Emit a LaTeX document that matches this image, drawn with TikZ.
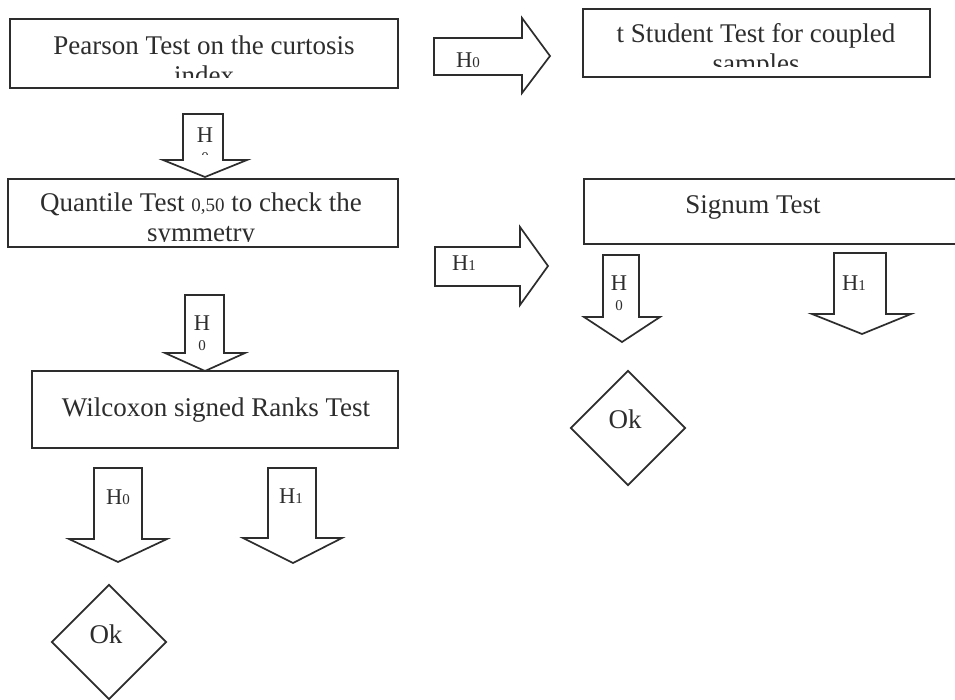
\documentclass[tikz,border=0pt]{standalone}
\usepackage{fontspec}
\setmainfont{Liberation Serif}
\usetikzlibrary{shapes.geometric}
\definecolor{ink}{RGB}{45,45,45}
\newcommand{\hidx}[1]{{\fontsize{15}{15}\selectfont #1}}

\begin{document}
\begin{tikzpicture}[
  x=1pt, y=-1pt, line join=miter,
  box/.style    = {draw=ink, line width=1.7pt, rectangle, inner sep=0pt},
  okbox/.style  = {draw=ink, line width=1.7pt, diamond, inner sep=0pt,
                   minimum width=115pt, minimum height=115pt},
  barrow/.style = {draw=ink, line width=1.7pt, fill=white},
  txt/.style    = {inner sep=0pt, text=ink, font=\fontsize{27}{30}\selectfont,
                   align=center, anchor=base},
  hlbl/.style   = {inner sep=0pt, text=ink, font=\fontsize{22.5}{20}\selectfont,
                   align=center, anchor=base},
]
  \fill[white] (0,0) rectangle (955,699);
  \useasboundingbox (0,0) rectangle (955,699);
  \clip (0,0) rectangle (955,699);

  % test boxes
  \node[box, minimum width=388pt, minimum height=69pt] (pearson)  at (204,53.5)  {};
  \node[box, minimum width=347pt, minimum height=68pt] (student)  at (756.5,43)  {};
  \node[box, minimum width=390pt, minimum height=68pt] (quantile) at (203,213)   {};
  \node[box, minimum width=396pt, minimum height=65pt] (signum)   at (782,211.5) {};
  \node[box, minimum width=366pt, minimum height=77pt] (wilcoxon) at (215,409.5) {};

  % box texts, cut off at the lower edge as printed (base = last line)
  \begin{scope}
    \clip (pearson.north west) rectangle ([yshift=11pt]pearson.south east);
    \node[txt] (pearsontxt) at (204,84) {Pearson Test on the curtosis\\index};
  \end{scope}
  \begin{scope}
    \clip (student.north west) rectangle ([yshift=11pt]student.south east);
    \node[txt] (studenttxt) at (756,72) {t Student Test for coupled\\samples};
  \end{scope}
  \begin{scope}
    \clip (quantile.north west) rectangle ([yshift=6pt]quantile.south east);
    \node[txt] (quantiletxt) at (201,241)
      {Quantile Test {\fontsize{19}{19}\selectfont 0,50} to check the\\symmetry};
  \end{scope}
  \node[txt] (signumtxt)   at (753,213) {Signum Test};
  \node[txt] (wilcoxontxt) at (216,416) {Wilcoxon signed Ranks Test};

  % block arrows
  \draw[barrow] (434,38) -- (522,38) -- (522,18) -- (550,56) -- (522,93)
    -- (522,75) -- (434,75) -- cycle;
  \draw[barrow] (435,247) -- (520,247) -- (520,227) -- (548,266) -- (520,305)
    -- (520,286) -- (435,286) -- cycle;
  \draw[barrow] (183,114) -- (223,114) -- (223,160) -- (247,160) -- (205,177)
    -- (163,160) -- (183,160) -- cycle;
  \draw[barrow] (185,295) -- (224,295) -- (224,353) -- (245,353) -- (205,371)
    -- (165,353) -- (185,353) -- cycle;
  \draw[barrow] (603,255) -- (639,255) -- (639,317) -- (660,317) -- (622,342)
    -- (584,317) -- (603,317) -- cycle;
  \draw[barrow] (834,253) -- (886,253) -- (886,314) -- (911,314) -- (862,334)
    -- (812,314) -- (834,314) -- cycle;
  \draw[barrow] (94,468) -- (142,468) -- (142,539) -- (167,539) -- (118,562)
    -- (69,539) -- (94,539) -- cycle;
  \draw[barrow] (268,468) -- (316,468) -- (316,538) -- (342,538) -- (293,563)
    -- (243,538) -- (268,538) -- cycle;

  % arrow labels
  \node[hlbl, anchor=base west] (h0right) at (456,67)  {H\hidx{0}};
  \node[hlbl, anchor=base west] (h1right) at (452,270) {H\hidx{1}};
  \begin{scope}
    \clip (183,114) rectangle (223,154);
    \node[hlbl] (h0pearson) at (205,162) {H\\\hidx{0}};
  \end{scope}
  \node[hlbl] (h0quantile) at (202,350) {H\\\hidx{0}};
  \node[hlbl] (h0signum)   at (619,310) {H\\\hidx{0}};
  \node[hlbl] (h1signum)   at (854,290) {H\hidx{1}};
  \node[hlbl] (h0wilcoxon) at (118,504) {H\hidx{0}};
  \node[hlbl] (h1wilcoxon) at (291,503) {H\hidx{1}};

  % end points
  \node[okbox] (okleft)  at (109,642) {};
  \node[okbox] (okright) at (628,428) {};
  \node[txt] (oklefttxt)  at (106,643) {Ok};
  \node[txt] (okrighttxt) at (625,428) {Ok};
\end{tikzpicture}
\end{document}
